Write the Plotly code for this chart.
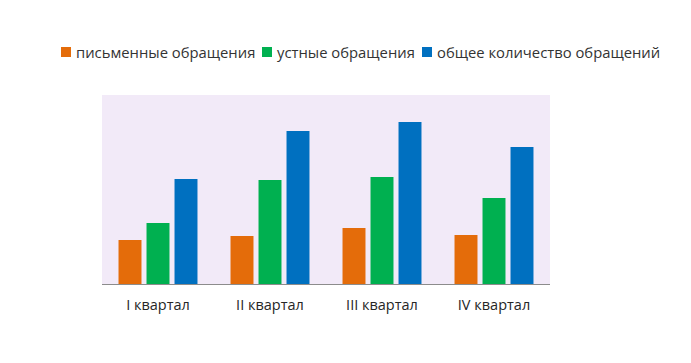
import plotly.graph_objects as go

categories = ["I квартал", "II квартал", "III квартал", "IV квартал"]
written = [44, 48, 56, 49]
oral = [61, 104, 107, 86]
total = [105, 153, 162, 137]

series_names = ["письменные обращения", "устные обращения", "общее количество обращений"]
colors = ["#E46C0A", "#00B050", "#0070C0"]

# page body has an 8px margin; figure coordinates are screen coords minus 8
OFF = 8
legend_x_px = [61 - OFF, 262 - OFF, 422 - OFF]  # legend swatch left edges (figure px)
legend_y_px = 52 - OFF

W, H = 683, 355
L, R, T, B = 94, 141, 87, 79

fig = go.Figure()
for name, vals, col in zip(series_names, [written, oral, total], colors):
    fig.add_trace(go.Bar(x=categories, y=vals, name=name, marker_color=col,
                         marker_line_width=0, showlegend=False))

pw, ph = W - L - R, H - T - B
def px_to_paper_x(px):
    return (px - L) / pw
def py_to_paper_y(py):
    return (H - B - py) / ph

for name, col, lx in zip(series_names, colors, legend_x_px):
    fig.add_shape(type="rect", xref="paper", yref="paper",
                  x0=px_to_paper_x(lx), x1=px_to_paper_x(lx + 10),
                  y0=py_to_paper_y(legend_y_px + 5), y1=py_to_paper_y(legend_y_px - 5),
                  fillcolor=col, line_width=0)
    fig.add_annotation(text=name, xref="paper", yref="paper",
                       x=px_to_paper_x(lx + 13), y=py_to_paper_y(legend_y_px),
                       xanchor="left", yanchor="middle", showarrow=False,
                       font=dict(size=14.8, color="#333333"))

font_family = "Open Sans, Liberation Sans, sans-serif"
fig.update_layout(
    width=W, height=H,
    margin=dict(l=L, r=R, t=T, b=B, autoexpand=False),
    paper_bgcolor="white",
    plot_bgcolor="#F2EAF8",
    barmode="group",
    bargap=0.25,
    bargroupgap=0.18,
    font=dict(family=font_family, color="#262626", size=14),
    showlegend=False,
)
fig.update_xaxes(showline=True, linecolor="#8C8C8C", linewidth=1, ticks="",
                 tickfont=dict(size=14.5, color="#262626"), showgrid=False,
                 ticklabelstandoff=8)
fig.update_yaxes(range=[0, 189], showticklabels=False, showgrid=False, zeroline=False,
                 showline=False, ticks="")

fig.write_html("out.html")
